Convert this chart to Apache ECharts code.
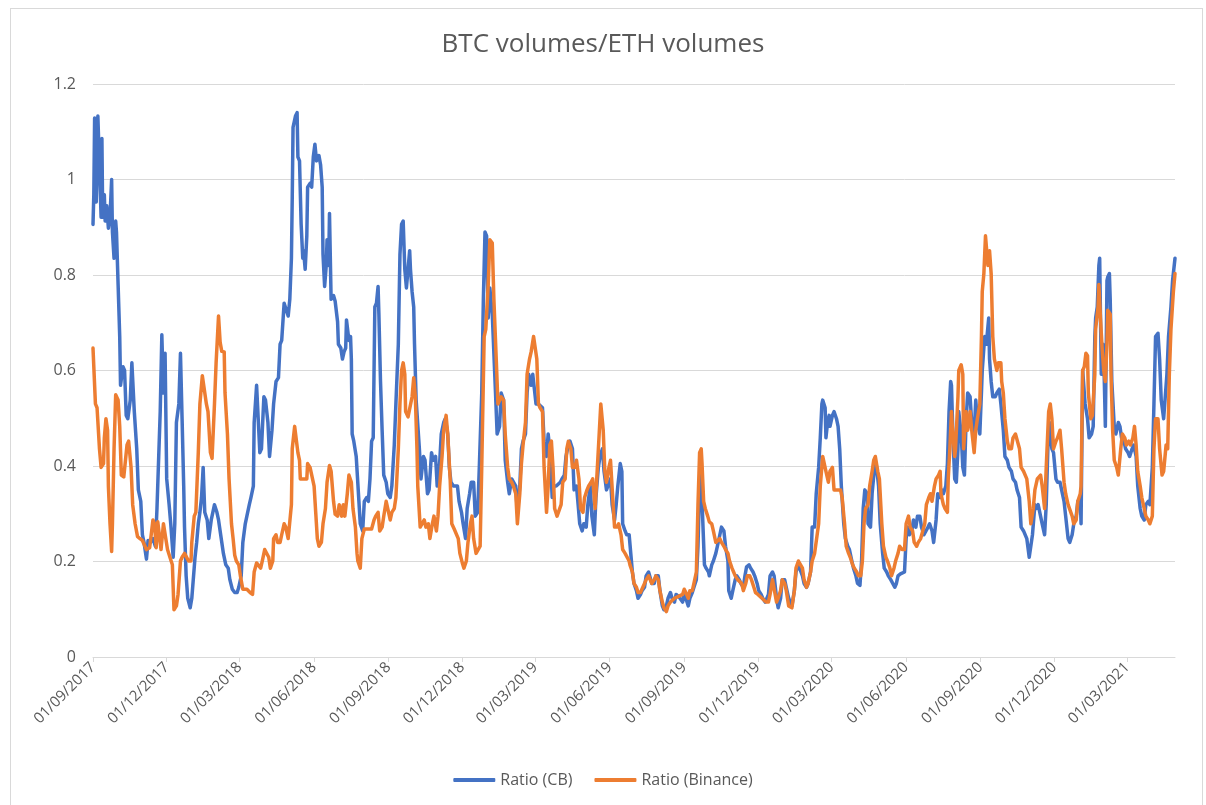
<!DOCTYPE html>
<html>
<head>
<meta charset="utf-8">
<title>BTC volumes/ETH volumes</title>
<script src="https://cdn.jsdelivr.net/npm/echarts@6/dist/echarts.min.js"></script>
<style>
  html, body { margin: 0; padding: 0; background: #fff; }
  body { position: relative; width: 1206px; height: 805px; overflow: hidden; }
  #chart { width: 1206px; height: 805px; }
  /* thin outer frame of the exported chart */
  .frame { position: absolute; left: 10px; top: 8px; width: 1191px; height: 810px; border: 1px solid #d9d9d9; pointer-events: none; }
</style>
</head>
<body>
<div id="chart"></div>
<div class="frame"></div>
<script>
// x values are days since 01/09/2017
const startDate = [2017, 8, 1]

// tick labels on the date axis (every 3 months)
const tickLabels = [
  '01/09/2017', '01/12/2017', '01/03/2018', '01/06/2018', '01/09/2018',
  '01/12/2018', '01/03/2019', '01/06/2019', '01/09/2019', '01/12/2019',
  '01/03/2020', '01/06/2020', '01/09/2020', '01/12/2020', '01/03/2021'
]
const lastDay = 1336

// Ratio (CB)
const cbDays = [
  0, 1, 2, 4, 6, 8, 10, 11, 12, 14, 15, 17, 19, 21, 23, 24, 26, 28, 29, 31,
  33, 34, 37, 39, 41, 43, 46, 48, 51, 54, 56, 59, 61, 63, 66, 68, 71, 74, 77, 79,
  81, 83, 85, 87, 89, 91, 94, 96, 99, 101, 103, 106, 108, 110, 112, 113, 115, 117, 120, 122,
  124, 126, 128, 130, 132, 134, 136, 138, 141, 143, 146, 148, 150, 153, 155,
  161, 164, 167, 169, 172, 175, 178, 180, 183, 185, 188, 190, 193, 195, 198, 199, 202, 204, 206, 208,
  211, 213, 216, 218, 221, 223, 226, 229, 231, 233, 236, 238, 241, 243, 245, 246, 247, 250, 252, 253,
  255, 257, 259, 260, 262, 264, 265, 268, 270, 272, 274, 276, 279, 281, 283, 284, 286, 288, 289, 291,
  292, 294, 297, 299, 302, 303, 306, 308, 310, 312, 313, 316, 318, 319, 320, 322, 325,
  330, 333, 335, 338, 340, 342, 344, 346, 348, 350, 352, 353, 355, 357, 359, 362, 364, 367, 369, 372,
  374, 377, 379, 381, 383, 385, 387, 389, 391, 392, 394, 396, 397, 399, 401, 403, 405, 408, 410, 413,
  415, 418, 420, 423, 425, 428, 430, 433, 435, 438, 440, 442, 445, 447, 450, 452, 455, 457, 460, 462,
  465, 467, 470, 472, 475, 477, 480, 482, 484, 486, 488, 490, 493,
  497, 499, 502, 504, 507, 509, 512, 514, 517, 519, 522, 524, 527, 529, 531, 534, 536, 538, 541, 543,
  545, 547, 550, 552, 555, 557, 560, 562, 564, 567, 569, 572, 574, 577, 579, 582, 584, 587, 589, 592,
  594, 597, 599, 601, 604, 606, 609, 611, 614, 616, 619, 621, 624, 626, 629, 631, 634, 636, 639, 641,
  644, 646, 648, 651, 653, 654, 657, 659, 662,
  666, 668, 671, 673, 676, 678, 681, 683, 686, 688, 690, 693, 695, 698, 700, 703, 705, 708, 710, 713,
  715, 718, 720, 723, 725, 728, 730, 732, 735, 737, 740, 742, 745, 747, 749, 751, 752, 755, 757, 760,
  761, 764, 766, 769, 771, 774, 776, 779, 781, 784, 785, 788, 790, 793, 795, 798, 800, 803, 805, 807,
  810, 812, 815, 817, 820, 822, 825, 827, 830,
  834, 836, 839, 841, 844, 846, 849, 851, 854, 856, 859, 861, 863, 866, 868, 871, 873, 876, 878, 881,
  883, 886, 888, 891, 893, 896, 898, 900, 901, 904, 905, 907, 909, 910, 913, 915, 918, 920, 922, 924,
  927, 929, 932, 934, 937, 939, 942, 944, 947, 949, 951, 953, 956, 957, 960, 962, 965, 967, 970, 972,
  975, 977, 980, 982, 985, 987, 990, 992, 994, 997,
  999, 1002, 1004, 1006, 1008, 1011, 1013, 1016, 1018, 1021, 1023, 1026, 1028, 1031, 1033, 1036, 1038, 1041, 1043, 1046,
  1048, 1050, 1053, 1055, 1057, 1059, 1060, 1062, 1064, 1066, 1068, 1069, 1072, 1074, 1076, 1078, 1080, 1083, 1085, 1088,
  1090, 1092, 1095, 1097, 1098, 1101, 1103, 1106, 1107, 1109, 1111, 1114, 1116, 1119, 1121, 1124, 1126, 1129, 1131, 1134,
  1136, 1139, 1141, 1144, 1146, 1149, 1151, 1153, 1156, 1158, 1160, 1163, 1165,
  1167, 1170, 1172, 1175, 1177, 1179, 1181, 1184, 1186, 1189, 1191, 1194, 1196, 1199, 1201, 1204, 1206, 1209, 1211, 1214,
  1216, 1219, 1220, 1222, 1223, 1225, 1228, 1230, 1233, 1235, 1237, 1238, 1240, 1242, 1243, 1245, 1247, 1248, 1250, 1252,
  1253, 1255, 1256, 1258, 1261, 1263, 1266, 1268, 1270, 1273, 1275, 1278, 1280, 1283, 1285, 1288, 1290, 1293, 1295, 1298,
  1300, 1303, 1305, 1308, 1310, 1312, 1315, 1317, 1319, 1322, 1323, 1326, 1328, 1331, 1333, 1336
]
const cbRatio = [
  0.906, 0.968, 1.129, 0.953, 1.133, 1.133, 0.921, 1.086, 0.921, 0.968, 0.913, 0.945, 0.898, 0.921, 1.0, 0.89, 0.835, 0.913, 0.89, 0.78,
  0.671, 0.569, 0.608, 0.6, 0.506, 0.499, 0.538, 0.616, 0.514, 0.436, 0.35, 0.326, 0.256, 0.24, 0.205, 0.244, 0.24, 0.248, 0.232, 0.311,
  0.311, 0.514, 0.675, 0.553, 0.636, 0.373, 0.319, 0.279, 0.209, 0.279, 0.491, 0.53, 0.636, 0.499, 0.358, 0.272, 0.17, 0.123, 0.103, 0.123,
  0.123, 0.209, 0.24, 0.279, 0.303, 0.334, 0.397, 0.303, 0.287, 0.248, 0.287, 0.287, 0.319, 0.303, 0.287,
  0.217, 0.193, 0.186, 0.162, 0.142, 0.135, 0.135, 0.146, 0.17, 0.24, 0.279, 0.295, 0.319, 0.334, 0.358, 0.491, 0.569, 0.569, 0.428, 0.436,
  0.545, 0.538, 0.491, 0.42, 0.475, 0.53, 0.577, 0.585, 0.655, 0.663, 0.741, 0.745, 0.714, 0.749, 0.835, 0.96, 1.109, 1.133, 1.14, 1.047,
  1.039, 0.906, 0.835, 0.851, 0.812, 0.882, 0.984, 0.992, 0.984, 1.047, 1.074, 1.039, 1.05, 1.031, 0.984, 0.843, 0.776, 0.82, 0.874, 0.82,
  0.929, 0.749, 0.757, 0.745, 0.702, 0.655, 0.647, 0.624, 0.639, 0.647, 0.706, 0.663, 0.671, 0.624, 0.467, 0.452, 0.42,
  0.279, 0.264, 0.326, 0.334, 0.326, 0.373, 0.452, 0.459, 0.733, 0.741, 0.776, 0.718, 0.577, 0.475, 0.381, 0.366, 0.342, 0.334, 0.358, 0.444,
  0.53, 0.655, 0.843, 0.906, 0.913, 0.812, 0.773, 0.773, 0.851, 0.812, 0.765, 0.733, 0.655, 0.538, 0.538, 0.436, 0.373, 0.42, 0.412, 0.342,
  0.35, 0.428, 0.412, 0.42, 0.358, 0.405, 0.467, 0.491, 0.499, 0.467, 0.397, 0.366, 0.358, 0.358, 0.358, 0.326, 0.303, 0.279, 0.248, 0.311,
  0.342, 0.366, 0.366, 0.295, 0.303, 0.397, 0.553, 0.749, 0.89, 0.882, 0.71, 0.773, 0.718,
  0.553, 0.467, 0.483, 0.553, 0.538, 0.412, 0.366, 0.342, 0.373, 0.373, 0.358, 0.303, 0.358, 0.436, 0.452, 0.467, 0.553, 0.592, 0.569, 0.592,
  0.561, 0.53, 0.53, 0.53, 0.522, 0.452, 0.42, 0.467, 0.436, 0.334, 0.358, 0.358, 0.358, 0.366, 0.373, 0.381, 0.42, 0.444, 0.452, 0.436,
  0.35, 0.358, 0.319, 0.279, 0.264, 0.279, 0.272, 0.319, 0.358, 0.295, 0.256, 0.334, 0.397, 0.42, 0.436, 0.389, 0.35, 0.35, 0.373, 0.319,
  0.287, 0.319, 0.358, 0.405, 0.389, 0.279, 0.264, 0.256, 0.256,
  0.178, 0.154, 0.139, 0.123, 0.131, 0.139, 0.146, 0.17, 0.178, 0.178, 0.154, 0.154, 0.17, 0.17, 0.139, 0.107, 0.099, 0.107, 0.123, 0.135,
  0.123, 0.115, 0.131, 0.127, 0.123, 0.115, 0.131, 0.123, 0.107, 0.123, 0.135, 0.146, 0.162, 0.232, 0.358, 0.397, 0.326, 0.193, 0.186, 0.178,
  0.17, 0.193, 0.201, 0.217, 0.232, 0.256, 0.272, 0.264, 0.232, 0.201, 0.139, 0.123, 0.139, 0.162, 0.17, 0.162, 0.154, 0.146, 0.17, 0.189,
  0.193, 0.186, 0.178, 0.17, 0.154, 0.139, 0.131, 0.123, 0.115,
  0.131, 0.17, 0.178, 0.17, 0.123, 0.103, 0.123, 0.162, 0.162, 0.146, 0.123, 0.123, 0.107, 0.139, 0.178, 0.193, 0.193, 0.17, 0.154, 0.146,
  0.154, 0.178, 0.272, 0.272, 0.342, 0.397, 0.459, 0.53, 0.538, 0.522, 0.459, 0.491, 0.506, 0.483, 0.506, 0.514, 0.499, 0.483, 0.436, 0.358,
  0.279, 0.248, 0.232, 0.225, 0.201, 0.186, 0.17, 0.154, 0.15, 0.201, 0.311, 0.35, 0.342, 0.279, 0.272, 0.342, 0.397, 0.405, 0.358, 0.279,
  0.217, 0.186, 0.178, 0.17, 0.162, 0.162, 0.146, 0.154, 0.17, 0.174,
  0.17, 0.178, 0.248, 0.272, 0.256, 0.264, 0.287, 0.272, 0.295, 0.295, 0.272, 0.256, 0.256, 0.272, 0.279, 0.264, 0.24, 0.287, 0.342, 0.334,
  0.35, 0.342, 0.358, 0.405, 0.514, 0.577, 0.569, 0.452, 0.373, 0.366, 0.436, 0.514, 0.467, 0.397, 0.381, 0.491, 0.553, 0.545, 0.491, 0.467,
  0.538, 0.491, 0.467, 0.553, 0.6, 0.671, 0.655, 0.71, 0.624, 0.577, 0.545, 0.545, 0.553, 0.561, 0.53, 0.475, 0.42, 0.412, 0.397, 0.389,
  0.373, 0.366, 0.35, 0.334, 0.272, 0.264, 0.264, 0.248, 0.209, 0.209, 0.256, 0.319, 0.311,
  0.319, 0.295, 0.279, 0.256, 0.319, 0.436, 0.491, 0.436, 0.428, 0.373, 0.366, 0.366, 0.35, 0.326, 0.295, 0.248, 0.24, 0.256, 0.279, 0.295,
  0.326, 0.334, 0.279, 0.6, 0.6, 0.53, 0.499, 0.459, 0.467, 0.483, 0.671, 0.71, 0.733, 0.82, 0.835, 0.592, 0.655, 0.631, 0.483, 0.788,
  0.796, 0.803, 0.749, 0.577, 0.483, 0.467, 0.491, 0.483, 0.459, 0.452, 0.436, 0.428, 0.42, 0.436, 0.444, 0.42, 0.358, 0.311, 0.295, 0.287,
  0.319, 0.326, 0.319, 0.397, 0.53, 0.671, 0.678, 0.624, 0.538, 0.499, 0.499, 0.592, 0.671, 0.733, 0.788, 0.835
]

// Ratio (Binance)
const binanceDays = [
  0, 3, 5, 8, 10, 11, 13, 14, 16, 18, 19, 21, 23, 24, 26, 28, 31, 33, 35, 38,
  39, 42, 44, 47, 49, 52, 55, 58, 61, 63, 66, 68, 70, 72, 74, 76, 78, 80, 84, 87,
  89, 92, 95, 98, 100, 103, 105, 108, 110, 113, 115, 118, 121, 122, 125, 127, 130, 132, 135, 137,
  140, 142, 145, 147, 150, 152, 155, 157, 159,
  162, 163, 166, 168, 171, 173, 175, 177, 180, 182, 185, 187, 190, 192, 194, 197, 199, 202, 204, 207,
  209, 212, 214, 217, 219, 222, 223, 226, 228, 231, 233, 236, 238, 241, 243, 245, 246, 249, 251, 253,
  255, 256, 259, 261, 264, 265, 268, 270, 273, 275, 277, 279, 282, 284, 287, 289, 292, 294, 297, 299,
  302, 304, 307, 309, 311, 314, 316, 319, 321, 324, 326,
  327, 330, 332, 335, 337, 340, 342, 344, 347, 349, 352, 354, 357, 359, 362, 364, 367, 369, 372, 374,
  377, 379, 381, 383, 385, 386, 389, 391, 394, 396, 398, 400, 401, 404, 406, 409, 411, 414, 416, 419,
  421, 424, 426, 428, 431, 433, 436, 438, 441, 443, 446, 448, 451, 453, 456, 458, 461, 463, 466, 468,
  470, 473, 475, 478, 480, 483, 485, 488, 490, 493, 495, 498, 500,
  502, 504, 507, 509, 512, 514, 517, 519, 522, 524, 527, 529, 531, 534, 536, 539, 541, 544, 546, 548,
  550, 552, 555, 557, 560, 562, 564, 566, 568, 570, 573, 575, 578, 580, 583, 585, 587, 590, 592, 595,
  597, 600, 602, 605, 607, 610, 612, 615, 617, 620, 622, 625, 627, 630, 632, 634, 637, 639, 642, 644,
  647, 649, 652, 654, 657, 659, 662,
  663, 666, 668, 671, 673, 676, 678, 681, 683, 686, 688, 690, 693, 695, 698, 700, 703, 705, 708, 710,
  713, 715, 718, 720, 723, 725, 728, 730, 732, 735, 737, 740, 742, 745, 747, 749, 751, 752, 754, 756,
  759, 761, 764, 766, 769, 771, 774, 776, 779, 781, 784, 786, 789, 791, 793, 796, 798, 801, 803, 806,
  808, 811, 813, 816, 818, 821, 823, 826, 828, 831,
  834, 836, 839, 841, 844, 846, 849, 851, 854, 856, 859, 861, 863, 866, 868, 871, 873, 876, 878, 881,
  883, 886, 888, 891, 893, 896, 898, 901, 903, 905, 908, 910, 913, 915, 918, 920, 923, 925, 928, 930,
  933, 935, 938, 940, 943, 945, 948, 950, 952, 954, 957, 959, 962, 964, 966, 969, 971, 974, 976, 979,
  981, 984, 986, 989, 991, 994, 996, 999,
  1002, 1004, 1007, 1009, 1012, 1014, 1017, 1019, 1022, 1024, 1027, 1029, 1032, 1034, 1036, 1039, 1041, 1044, 1046, 1047,
  1050, 1052, 1055, 1056, 1058, 1060, 1061, 1064, 1065, 1068, 1069, 1072, 1074, 1075, 1078, 1080, 1083, 1085, 1088, 1090,
  1092, 1095, 1097, 1098, 1100, 1102, 1103, 1105, 1107, 1109, 1111, 1113, 1116, 1118, 1121, 1122, 1124, 1126, 1129, 1131,
  1134, 1136, 1139, 1141, 1144, 1146, 1149, 1151, 1153, 1156, 1158, 1161, 1163, 1166,
  1167, 1170, 1172, 1175, 1177, 1180, 1182, 1184, 1186, 1189, 1191, 1194, 1196, 1199, 1201, 1204, 1206, 1209, 1211, 1214,
  1216, 1219, 1220, 1222, 1224, 1226, 1228, 1229, 1232, 1234, 1237, 1238, 1241, 1242, 1244, 1246, 1248, 1250, 1252, 1253,
  1256, 1257, 1259, 1261, 1264, 1266, 1269, 1271, 1274, 1276, 1279, 1281, 1284, 1286, 1288, 1290, 1293, 1295, 1298, 1300,
  1303, 1305, 1308, 1310, 1312, 1315, 1317, 1320, 1322, 1325, 1327, 1329, 1331, 1334, 1336
]
const binanceRatio = [
  0.647, 0.53, 0.522, 0.436, 0.397, 0.397, 0.405, 0.459, 0.499, 0.475, 0.358, 0.279, 0.221, 0.279, 0.436, 0.549, 0.538, 0.483, 0.381, 0.377,
  0.381, 0.444, 0.452, 0.397, 0.319, 0.279, 0.252, 0.248, 0.244, 0.24, 0.225, 0.229, 0.229, 0.232, 0.287, 0.279, 0.229, 0.283, 0.225, 0.279,
  0.283, 0.225, 0.209, 0.193, 0.099, 0.107, 0.131, 0.201, 0.209, 0.217, 0.221, 0.201, 0.201, 0.24, 0.295, 0.303, 0.428, 0.53, 0.589, 0.592,
  0.53, 0.514, 0.428, 0.416, 0.53, 0.616, 0.714, 0.659, 0.64,
  0.639, 0.553, 0.467, 0.373, 0.279, 0.248, 0.213, 0.201, 0.193, 0.17, 0.142, 0.146, 0.142, 0.138, 0.135, 0.131, 0.178, 0.197, 0.193, 0.186,
  0.201, 0.225, 0.225, 0.209, 0.186, 0.201, 0.248, 0.256, 0.24, 0.24, 0.256, 0.279, 0.272, 0.248, 0.248, 0.319, 0.436, 0.483, 0.487, 0.428,
  0.412, 0.373, 0.373, 0.377, 0.373, 0.405, 0.397, 0.397, 0.358, 0.303, 0.248, 0.232, 0.24, 0.279, 0.311, 0.366, 0.401, 0.389, 0.326, 0.299,
  0.295, 0.319, 0.295, 0.319, 0.295, 0.342, 0.381, 0.366, 0.311, 0.272, 0.217,
  0.201, 0.186, 0.248, 0.268, 0.264, 0.268, 0.272, 0.268, 0.287, 0.295, 0.303, 0.264, 0.272, 0.295, 0.326, 0.326, 0.287, 0.303, 0.311, 0.334,
  0.436, 0.53, 0.6, 0.616, 0.592, 0.514, 0.503, 0.499, 0.545, 0.585, 0.545, 0.436, 0.358, 0.272, 0.272, 0.287, 0.272, 0.279, 0.248, 0.279,
  0.295, 0.264, 0.295, 0.358, 0.42, 0.475, 0.506, 0.467, 0.373, 0.279, 0.268, 0.268, 0.248, 0.217, 0.197, 0.186, 0.201, 0.24, 0.279, 0.295,
  0.248, 0.217, 0.217, 0.232, 0.397, 0.671, 0.686, 0.78, 0.874, 0.867, 0.749, 0.62, 0.53,
  0.53, 0.545, 0.538, 0.467, 0.397, 0.373, 0.366, 0.358, 0.342, 0.279, 0.342, 0.405, 0.444, 0.491, 0.592, 0.624, 0.639, 0.671, 0.671, 0.624,
  0.53, 0.522, 0.514, 0.397, 0.303, 0.358, 0.444, 0.452, 0.397, 0.311, 0.295, 0.295, 0.319, 0.366, 0.373, 0.436, 0.452, 0.436, 0.397, 0.397,
  0.412, 0.373, 0.311, 0.303, 0.334, 0.35, 0.358, 0.366, 0.373, 0.311, 0.373, 0.467, 0.53, 0.475, 0.389, 0.366, 0.397, 0.412, 0.326, 0.272,
  0.272, 0.279, 0.256, 0.225, 0.217, 0.217, 0.201,
  0.193, 0.178, 0.154, 0.146, 0.135, 0.135, 0.139, 0.154, 0.162, 0.17, 0.166, 0.154, 0.162, 0.17, 0.162, 0.139, 0.115, 0.103, 0.095, 0.107,
  0.115, 0.115, 0.123, 0.123, 0.127, 0.131, 0.131, 0.142, 0.135, 0.123, 0.139, 0.139, 0.154, 0.178, 0.319, 0.428, 0.436, 0.405, 0.326, 0.311,
  0.295, 0.283, 0.279, 0.264, 0.24, 0.24, 0.248, 0.24, 0.232, 0.225, 0.217, 0.201, 0.186, 0.178, 0.17, 0.162, 0.162, 0.154, 0.139, 0.154,
  0.17, 0.17, 0.162, 0.146, 0.135, 0.131, 0.127, 0.123, 0.119, 0.115,
  0.115, 0.131, 0.162, 0.162, 0.115, 0.123, 0.139, 0.162, 0.154, 0.139, 0.107, 0.107, 0.103, 0.139, 0.186, 0.201, 0.201, 0.186, 0.162, 0.146,
  0.154, 0.178, 0.201, 0.217, 0.217, 0.279, 0.358, 0.42, 0.424, 0.389, 0.366, 0.389, 0.397, 0.35, 0.35, 0.35, 0.35, 0.334, 0.279, 0.232,
  0.217, 0.209, 0.193, 0.186, 0.178, 0.17, 0.17, 0.201, 0.279, 0.311, 0.319, 0.358, 0.389, 0.412, 0.42, 0.389, 0.373, 0.279, 0.232, 0.209,
  0.201, 0.186, 0.17, 0.186, 0.201, 0.217, 0.232, 0.225,
  0.225, 0.279, 0.295, 0.272, 0.264, 0.24, 0.232, 0.24, 0.248, 0.248, 0.279, 0.319, 0.334, 0.342, 0.326, 0.358, 0.373, 0.381, 0.389, 0.342,
  0.319, 0.311, 0.303, 0.373, 0.436, 0.514, 0.483, 0.42, 0.436, 0.545, 0.6, 0.612, 0.592, 0.436, 0.514, 0.475, 0.514, 0.475, 0.428, 0.475,
  0.499, 0.53, 0.671, 0.765, 0.803, 0.882, 0.882, 0.82, 0.851, 0.803, 0.671, 0.624, 0.6, 0.616, 0.616, 0.577, 0.553, 0.499, 0.452, 0.436,
  0.436, 0.459, 0.467, 0.467, 0.436, 0.397, 0.389, 0.389, 0.373, 0.326, 0.279, 0.311, 0.35, 0.373,
  0.373, 0.381, 0.358, 0.311, 0.397, 0.514, 0.53, 0.499, 0.436, 0.452, 0.459, 0.475, 0.436, 0.366, 0.342, 0.319, 0.319, 0.295, 0.279, 0.287,
  0.326, 0.342, 0.358, 0.6, 0.608, 0.636, 0.631, 0.553, 0.499, 0.506, 0.592, 0.686, 0.733, 0.78, 0.71, 0.647, 0.6, 0.577, 0.655, 0.726,
  0.718, 0.592, 0.475, 0.412, 0.397, 0.381, 0.436, 0.467, 0.459, 0.444, 0.452, 0.444, 0.459, 0.483, 0.444, 0.389, 0.358, 0.334, 0.311, 0.295,
  0.287, 0.279, 0.295, 0.436, 0.499, 0.499, 0.436, 0.381, 0.389, 0.444, 0.436, 0.592, 0.686, 0.765, 0.803
]

const DAY_MS = 24 * 3600 * 1000
const startTime = Date.UTC(startDate[0], startDate[1], startDate[2])

function pad(n) {
  return n < 10 ? '0' + n : '' + n
}

// day offset -> dd/MM/yyyy
function formatDay(day) {
  const d = new Date(startTime + Math.round(day) * DAY_MS)
  return pad(d.getUTCDate()) + '/' + pad(d.getUTCMonth() + 1) + '/' + d.getUTCFullYear()
}

// dd/MM/yyyy -> day offset
function labelToDay(s) {
  const [dd, mm, yyyy] = s.split('/').map(Number)
  return Math.round((Date.UTC(yyyy, mm - 1, dd) - startTime) / DAY_MS)
}

function toPoints(days, values) {
  return days.map((d, i) => [d, values[i]])
}

const tickDays = tickLabels.map(labelToDay)

const chart = echarts.init(document.getElementById('chart'))

const option = {
  animation: false,
  textStyle: { fontFamily: '"Open Sans", Lato, sans-serif' },
  title: {
    text: 'BTC volumes/ETH volumes',
    left: 'center',
    top: 27,
    padding: [5, 5, 5, 20],
    textStyle: { fontSize: 26, fontWeight: 'normal', color: '#595959' }
  },
  legend: {
    bottom: 12,
    left: 'center',
    icon: 'roundRect',
    itemWidth: 42,
    itemHeight: 4,
    itemGap: 22,
    textStyle: { fontSize: 16, color: '#595959' }
  },
  grid: {
    left: 93,
    right: 31,
    top: 84,
    bottom: 148
  },
  xAxis: {
    type: 'value',
    min: 0,
    max: lastDay,
    axisLine: { lineStyle: { color: '#d9d9d9', width: 1 } },
    axisTick: {
      show: true,
      customValues: tickDays,
      length: 5,
      lineStyle: { color: '#d9d9d9' }
    },
    axisLabel: {
      customValues: tickDays,
      rotate: 45,
      margin: 8,
      fontSize: 15,
      color: '#595959',
      formatter: formatDay
    },
    splitLine: { show: false }
  },
  yAxis: {
    type: 'value',
    min: 0,
    max: 1.2,
    interval: 0.2,
    axisLine: { show: false },
    axisTick: { show: false },
    axisLabel: { fontSize: 16, color: '#595959', margin: 17 },
    splitLine: { lineStyle: { color: '#d9d9d9', width: 1 } }
  },
  series: [
    {
      name: 'Ratio (CB)',
      type: 'line',
      data: toPoints(cbDays, cbRatio),
      showSymbol: false,
      color: '#4472C4',
      lineStyle: { width: 3.5, join: 'round', cap: 'round' }
    },
    {
      name: 'Ratio (Binance)',
      type: 'line',
      data: toPoints(binanceDays, binanceRatio),
      showSymbol: false,
      color: '#ED7D31',
      lineStyle: { width: 3.5, join: 'round', cap: 'round' }
    }
  ]
}

chart.setOption(option)
</script>
</body>
</html>
